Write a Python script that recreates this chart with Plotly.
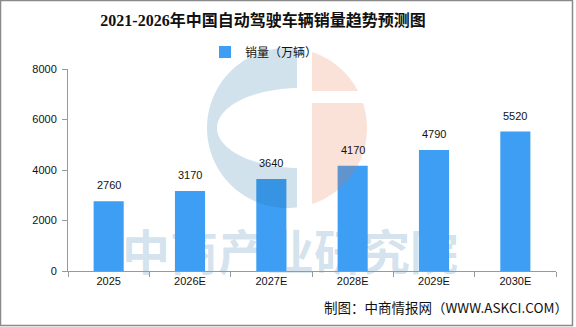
import numpy as np
import plotly.graph_objects as go

# ---- data ----
categories = ["2025", "2026E", "2027E", "2028E", "2029E", "2030E"]
sales = [2760, 3170, 3640, 4170, 4790, 5520]
series_name = "销量（万辆）"
title_text = "2021-2026年中国自动驾驶车辆销量趋势预测图"
source_text = "制图：中商情报网（WWW.ASKCI.COM）"
watermark_text = "中商产业研究院"
y_ticks = [0, 2000, 4000, 6000, 8000]

positions = list(range(len(categories)))
boundaries = [p - 0.5 for p in positions] + [positions[-1] + 0.5]

W, H = 576, 327
L, R, T, B = 68, 20, 69, 56
PX0, PX1 = L, W - R
PY0, PY1 = T, H - B  # top, bottom in pixels


def to_paper(px, py):
    return (px - PX0) / (PX1 - PX0), (PY1 - py) / (PY1 - PY0)


def poly_path(pts):
    s = []
    for i, (px, py) in enumerate(pts):
        x, y = to_paper(px, py)
        s.append(("M" if i == 0 else "L") + f"{x:.5f},{y:.5f}")
    return " ".join(s) + " Z"


# logo geometry (pixel space)
cx, cy, r = 287.0, 128.0, 80.0
ex, ey, erx, ery = 300.0, 128.0, 83.0, 40.0
xl, xr = 297.0, 312.0
gap_top, gap_bot = 91.0, 103.0

a0 = np.arccos((xl - cx) / r)
angs = np.linspace(a0, 2 * np.pi - a0, 80)
outer = [(cx + r * np.cos(a), cy - r * np.sin(a)) for a in angs]
b0 = np.arccos((xl - ex) / erx)
angs_e = np.linspace(2 * np.pi - b0, b0, 80)
inner = [(ex + erx * np.cos(a), ey - ery * np.sin(a)) for a in angs_e]
left_pts = outer + inner


def circle_y(px, sign):
    return cy + sign * np.sqrt(max(r * r - (px - cx) ** 2, 0))


def circle_x(py):
    return cx + np.sqrt(max(r * r - (py - cy) ** 2, 0))


ys_up = np.linspace(circle_y(xr, -1), gap_top, 60)
up_pts = [(xr, ys_up[0])] + [(circle_x(y), y) for y in ys_up] + [(xr, gap_top)]
ys_dn = np.linspace(gap_bot, circle_y(xr, 1), 80)
dn_pts = [(xr, gap_bot)] + [(circle_x(y), y) for y in ys_dn] + [(xr, ys_dn[-1])]

blue_wm = "rgba(30,110,160,0.2)"
orange_wm = "rgba(235,110,60,0.2)"

shapes = [
    dict(type="path", xref="paper", yref="paper", path=poly_path(left_pts),
         fillcolor=blue_wm, line=dict(width=0), layer="above"),
    dict(type="path", xref="paper", yref="paper", path=poly_path(up_pts),
         fillcolor=orange_wm, line=dict(width=0), layer="above"),
    dict(type="path", xref="paper", yref="paper", path=poly_path(dn_pts),
         fillcolor=orange_wm, line=dict(width=0), layer="above"),
]
bx0, by0 = to_paper(0.5, 0.5)
bx1, by1 = to_paper(572.5, 325.5)
shapes.append(dict(type="rect", xref="paper", yref="paper", x0=bx0, y0=by1, x1=bx1, y1=by0,
                   line=dict(color="#8a8a8a", width=1.5), fillcolor="rgba(0,0,0,0)", layer="above"))

fig = go.Figure()

# watermark text on the hidden primary axes (pixel-like coordinates), beneath the bars
fig.add_trace(go.Scatter(
    x=[290], y=[258], mode="text", text=[watermark_text],
    textfont=dict(size=48, color=blue_wm, family="Noto Sans CJK SC", weight="bold"),
    showlegend=False, hoverinfo="skip", cliponaxis=False, xaxis="x", yaxis="y"))

fig.add_trace(go.Bar(
    x=positions, y=sales, name=series_name, width=0.37,
    marker=dict(color="#3e9ef3", line=dict(width=0)),
    text=[str(v) for v in sales], hoverinfo="x+y",
    textposition="none",
    xaxis="x2", yaxis="y2"))

label_font = dict(size=11, color="#111", family="Liberation Sans, Noto Sans CJK SC")
annotations = []
for p, v in zip(positions, sales):
    annotations.append(dict(x=p, y=v, xref="x2", yref="y2", text=str(v), showarrow=False,
                            yanchor="bottom", yshift=8, font=label_font))

sx, sy = to_paper(570, 307)
annotations.append(dict(x=sx, y=sy, xref="paper", yref="paper", text=source_text, showarrow=False,
                        xanchor="right", yanchor="middle",
                        font=dict(size=13.5, color="#111", family="Noto Sans CJK SC")))

lx, ly = to_paper(205, 52)

fig.update_layout(
    width=W, height=H,
    margin=dict(l=L, r=R, t=T, b=B),
    paper_bgcolor="white", plot_bgcolor="white",
    title=dict(text=title_text, x=263 / W, xanchor="center", xref="container",
               y=1 - 20 / H, yanchor="middle", yref="container",
               font=dict(size=16, color="#111", family="Liberation Serif, Noto Sans CJK SC", weight="bold")),
    showlegend=True,
    legend=dict(orientation="h", x=lx, y=ly, xanchor="left", yanchor="middle",
                font=dict(size=12, color="#111", family="Noto Sans CJK SC"),
                bgcolor="rgba(0,0,0,0)", itemwidth=30),
    xaxis=dict(range=[PX0, PX1], visible=False, fixedrange=True),
    yaxis=dict(range=[PY1, PY0], visible=False, fixedrange=True),
    xaxis2=dict(overlaying="x", range=[boundaries[0], boundaries[-1]],
                tickvals=positions, ticktext=categories, ticks="", showline=True,
                linecolor="#999", linewidth=1, showgrid=False, zeroline=False,
                minor=dict(tickvals=boundaries, ticks="outside", ticklen=5, tickcolor="#999",
                           showgrid=False),
                tickfont=label_font),
    yaxis2=dict(overlaying="y", range=[0, 8000], tickvals=y_ticks, showline=True, linecolor="#999",
                linewidth=1, ticks="outside", ticklen=5, tickcolor="#999", showgrid=False,
                zeroline=False, ticklabelstandoff=3, tickfont=label_font),
    shapes=shapes,
    annotations=annotations,
)

fig.write_html("out.html")
